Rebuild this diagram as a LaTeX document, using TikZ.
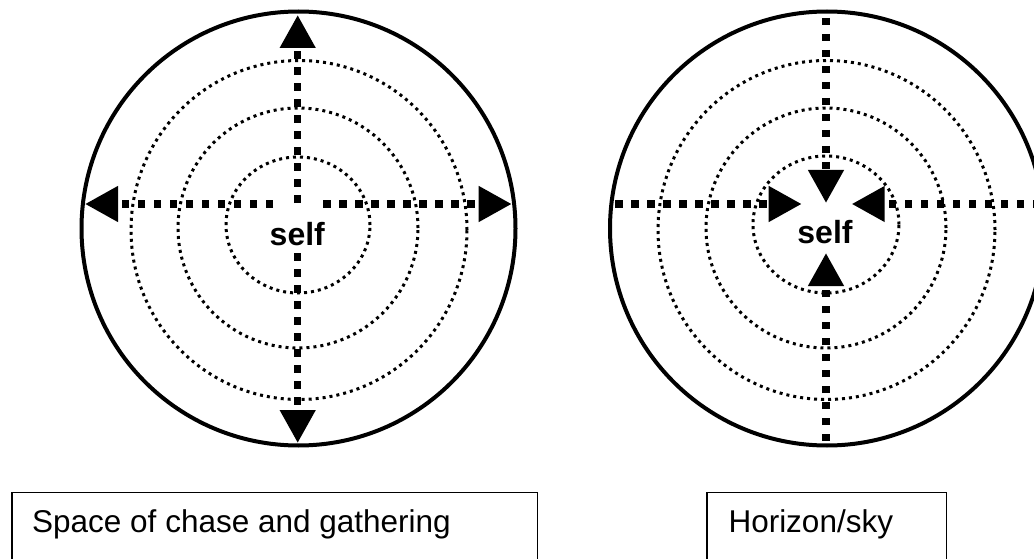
\documentclass[tikz,border=0pt]{standalone}
\usepackage{fontspec}
\setmainfont{Liberation Sans}
\usetikzlibrary{arrows.meta}
\begin{document}
\begin{tikzpicture}[x=1pt,y=-1pt,
  rim/.style={line width=4pt},
  ring/.style={line width=3pt, dash pattern=on 3pt off 4pt},
  ray/.style={line width=7.5pt, dash pattern=on 7.5pt off 8.5pt,
    -{Triangle[length=33pt,width=34pt]}},
  selftext/.style={font=\fontsize{32}{38}\selectfont\bfseries, anchor=base, inner sep=0pt},
  captext/.style={font=\fontsize{31.5}{38}\selectfont, anchor=base west, inner sep=0pt},
  capbox/.style={line width=1.3pt}
]
\useasboundingbox (0,0) rectangle (1034,559);
\clip (0,0) rectangle (1034,559);

% ---------- left diagram ----------
\coordinate (L) at (298.5,228.5);
\draw[rim] (L) circle[radius=217pt];
\draw[ring] (298,225) ellipse[x radius=72pt, y radius=68pt];
\draw[ring] (298,228) circle[radius=120pt];
\draw[ring] (299,230) ellipse[x radius=168pt, y radius=169.5pt];

\coordinate (Lt0) at (297.7,203);   \coordinate (Lt1) at (297.7,15);
\coordinate (Lb0) at (297.7,253);   \coordinate (Lb1) at (297.7,443);
\coordinate (Ll0) at (273,204);     \coordinate (Ll1) at (85,204);
\coordinate (Lr0) at (323,204);     \coordinate (Lr1) at (511.7,204);
\draw[ray] (Lt0) -- (Lt1);
\draw[ray] (Lb0) -- (Lb1);
\draw[ray] (Ll0) -- (Ll1);
\draw[ray] (Lr0) -- (Lr1);
\node[selftext] (selfL) at (297.3,245) {self};

% ---------- right diagram ----------
\coordinate (R) at (827,228.5);
\draw[rim] (R) circle[radius=217pt];
\draw[ring] (826,224.5) ellipse[x radius=73pt, y radius=68.5pt];
\draw[ring] (826,228) circle[radius=120pt];
\draw[ring] (826.5,230) ellipse[x radius=168.5pt, y radius=169.5pt];

\coordinate (Rt0) at (826,18);      \coordinate (Rt1) at (826,203);
\coordinate (Rb0) at (826,441);     \coordinate (Rb1) at (826,253);
\coordinate (Rl0) at (615,204);     \coordinate (Rl1) at (801.7,204);
\coordinate (Rr0) at (1040,204);    \coordinate (Rr1) at (851.7,204);
\draw[ray] (Rt0) -- (Rt1);
\draw[ray] (Rb0) -- (Rb1);
\draw[ray] (Rl0) -- (Rl1);
\draw[ray] (Rr0) -- (Rr1);
\node[selftext] (selfR) at (825,243.5) {self};

% ---------- captions ----------
\draw[capbox] (12,492.7) rectangle (537.7,575);
\node[captext] (capL) at (32,532.7) {Space of chase and gathering};
\draw[capbox] (707,492.7) rectangle (946.7,575);
\node[captext] (capR) at (728.3,532.7) {Horizon/sky};
\end{tikzpicture}
\end{document}
